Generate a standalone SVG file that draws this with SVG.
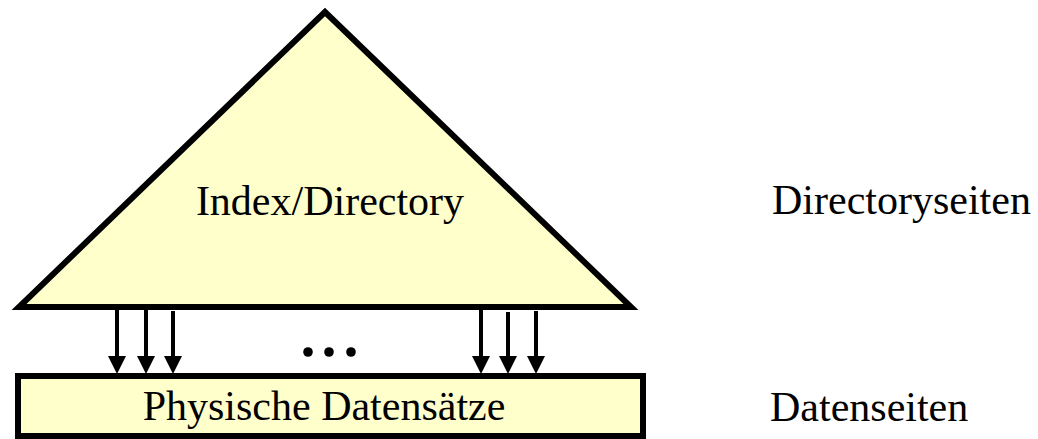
<svg xmlns="http://www.w3.org/2000/svg" width="1038" height="439" viewBox="0 0 1038 439">
  <style>
    .shape { fill: #ffffcc; stroke: #000000; stroke-width: 6; stroke-linejoin: miter; stroke-miterlimit: 10; }
    .label { font-family: "Liberation Serif", "Times New Roman", serif; font-size: 42px; fill: #000000; }
    .arrow { stroke: #000000; stroke-width: 4; fill: none; marker-end: url(#head); }
    .dot { fill: #000000; }
  </style>
  <defs>
    <marker id="head" markerUnits="userSpaceOnUse" viewBox="0 0 18 18" refX="0" refY="9" markerWidth="18" markerHeight="18" orient="auto">
      <path d="M0,0 L18,9 L0,18 Z" fill="#000000"/>
    </marker>
  </defs>
  <rect width="1038" height="439" fill="#ffffff"/>

  <g id="index-directory">
    <polygon class="shape" points="325,12 19,307 631,307"/>
    <text class="label" x="330" y="215" text-anchor="middle">Index/Directory</text>
  </g>

  <g id="physische-datensaetze">
    <rect class="shape" x="18" y="376" width="625" height="60"/>
    <text class="label" x="324" y="420" text-anchor="middle">Physische Datensätze</text>
  </g>

  <g id="connectors">
    <line class="arrow" x1="117" y1="310" x2="117" y2="356"/>
    <line class="arrow" x1="146" y1="310" x2="146" y2="356"/>
    <line class="arrow" x1="173" y1="311" x2="173" y2="356"/>
    <line class="arrow" x1="481" y1="310" x2="481" y2="356"/>
    <line class="arrow" x1="508" y1="312" x2="508" y2="356"/>
    <line class="arrow" x1="536" y1="311" x2="536" y2="356"/>
  </g>

  <g id="ellipsis">
    <circle class="dot" cx="308" cy="352" r="4.8"/>
    <circle class="dot" cx="329" cy="352" r="4.8"/>
    <circle class="dot" cx="351" cy="352" r="4.8"/>
  </g>

  <g id="level-labels">
    <text class="label" x="772" y="214">Directoryseiten</text>
    <text class="label" x="770" y="421">Datenseiten</text>
  </g>
</svg>
